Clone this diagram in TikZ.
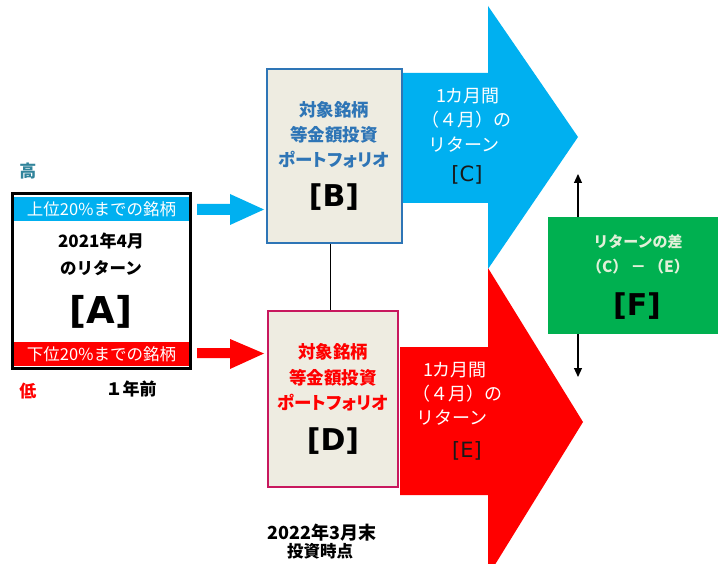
\documentclass[tikz,border=0pt]{standalone}
\usepackage{fontspec}
\setmainfont{Noto Sans CJK JP}
\newfontfamily\pj{Noto Sans CJK JP}[RawFeature=+palt]
\newfontfamily\lat{DejaVu Sans}
\usetikzlibrary{arrows.meta}
\definecolor{cy}{HTML}{00B0F0}
\definecolor{rd}{HTML}{FF0000}
\definecolor{gr}{HTML}{00B050}
\definecolor{beige}{HTML}{EEECE1}
\definecolor{bblue}{HTML}{2E75B6}
\definecolor{dpink}{HTML}{C8185E}
\definecolor{teal}{HTML}{31849B}
\definecolor{pale}{HTML}{E2F0D9}
\tikzset{
  t/.style={inner sep=0pt, font=\fontsize{#1}{#1}\selectfont},
  tb/.style={inner sep=0pt, font=\fontsize{#1}{#1}\selectfont\bfseries},
  tp/.style={inner sep=0pt, font=\fontsize{#1}{#1}\selectfont\pj\bfseries},
  big/.style={inner sep=0pt, font=\fontsize{#1}{#1}\selectfont\lat\bfseries},
  pbox/.style={draw, line width=2pt, fill=beige, inner sep=0pt},
  vv/.style={-{Triangle[length=9pt,width=8pt]}, line width=1.2pt}
}
\begin{document}
\begin{tikzpicture}[x=1pt,y=-1pt]
\useasboundingbox (0,0) rectangle (718,564);
\fill[white] (0,0) rectangle (718,564);

% big arrows
\fill[cy] (402,73) -- (488,73) -- (488,6) -- (578,137) -- (488,269) -- (488,203) -- (402,203) -- cycle;
\fill[rd] (400,347) -- (488,347) -- (488,268) -- (583,422) -- (488,576) -- (488,495) -- (400,495) -- cycle;

% box A
\node[draw, line width=3pt, minimum width=178pt, minimum height=175pt, inner sep=0pt] (A) at (101.5,281) {};
\node[fill=cy, minimum width=175pt, minimum height=24pt, inner sep=0pt, text=white, t=16.5] (Aup) at (101.5,209) {上位20\%までの銘柄};
\node[fill=rd, minimum width=175pt, minimum height=24pt, inner sep=0pt, text=white, t=16.5] (Adn) at (101.5,354) {下位20\%までの銘柄};
\node[tb=17] (a1) at (101,241) {2021年4月};
\node[tb=16.5] (a2) at (101,268) {のリターン};
\node[big=37] (a3) at (101,312) {[A]};

\node[tb=17, text=teal] (hi) at (28,171) {高};
\node[tb=17, text=rd] (lo) at (28,391) {低};
\node[tb=17] (yr) at (131,389) {１年前};

% small arrows
\fill[cy] (197,204) -- (230,204) -- (230,194) -- (264,209.5) -- (230,225) -- (230,215) -- (197,215) -- cycle;
\fill[rd] (197,348) -- (230,348) -- (230,339) -- (264,353.5) -- (230,369) -- (230,358) -- (197,358) -- cycle;

% box B
\node[pbox, draw=bblue, minimum width=135pt, minimum height=174pt] (B) at (334.5,156) {};
\node[tp=17.5, text=bblue] (b1) at (334,110) {対象銘柄};
\node[tp=17.5, text=bblue] (b2) at (334,135) {等金額投資};
\node[tp=17.5, text=bblue] (b3) at (334,160) {ポートフォリオ};
\node[big=30] (b4) at (334,197) {[B]};

% box D
\node[pbox, draw=dpink, minimum width=130pt, minimum height=176pt] (D) at (333,399) {};
\node[tp=17.5, text=rd] (d1) at (333,352) {対象銘柄};
\node[tp=17.5, text=rd] (d2) at (333,378) {等金額投資};
\node[tp=17.5, text=rd] (d3) at (333,403) {ポートフォリオ};
\node[big=30] (d4) at (333,441) {[D]};

% connecting line
\draw[line width=1pt] ([xshift=-4pt]B.south) -- ([xshift=-4pt]B.south |- D.north);

% cyan arrow text
\node[t=18, text=white] (c1) at (468,96) {1カ月間};
\node[t=18, text=white] (c2) at (466,120) {（４月）の};
\node[t=18, text=white] (c3) at (464,145) {リターン};
\node[text=black!90, inner sep=0pt, font=\fontsize{21}{21}\selectfont\lat] (c4) at (467,175) {[C]};

% red arrow text
\node[t=18, text=white] (e1) at (455,370) {1カ月間};
\node[t=18, text=white] (e2) at (457,394) {（４月）の};
\node[t=18, text=white] (e3) at (452,418) {リターン};
\node[text=black!90, inner sep=0pt, font=\fontsize{21}{21}\selectfont\lat] (e4) at (467,451) {[E]};

% green box
\node[fill=gr, minimum width=170pt, minimum height=117pt, inner sep=0pt] (F) at (633,275.5) {};
\node[tb=15, text=pale] (f1) at (638,242) {リターンの差};
\node[tb=15.5, text=pale] (f2) at (638,267) {（C）\,－\,（E）};
\node[big=30] (f3) at (637,306) {[F]};

\coordinate (up) at (578,174);
\coordinate (dn) at (578,377);
\draw[vv] (F.north -| up) -- (up);
\draw[vv] (F.south -| dn) -- (dn);

% bottom text
\node[tb=18] (g1) at (322,533) {2022年3月末};
\node[tb=16.5] (g2) at (320,551) {投資時点};
\end{tikzpicture}
\end{document}
